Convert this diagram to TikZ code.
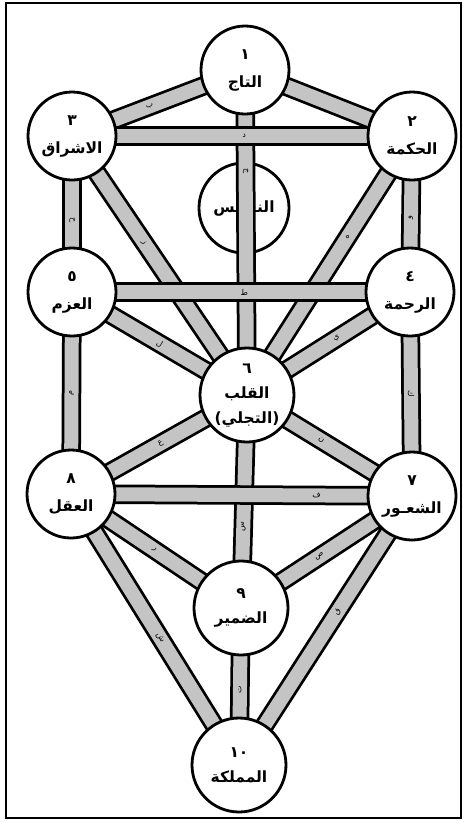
\documentclass[tikz,border=0pt]{standalone}
\usepackage{fontspec}
\TeXXeTstate=1
\newfontfamily\arabicfont[Script=Arabic]{DejaVu Sans}
\definecolor{barfill}{RGB}{196,196,196}
\pgfdeclarelayer{bg}
\pgfsetlayers{bg,main}
\newcommand\pathbar[4]{%
  \draw[barout] (#1.center) -- (#2.center);
  \draw[barin] (#1.center) -- (#2.center) node[lbl,pos=#3]{#4};}
\newcommand\plainbar[2]{%
  \draw[barout] (#1.center) -- (#2.center);
  \draw[barin] (#1.center) -- (#2.center);}
\begin{document}
\begin{tikzpicture}[x=1pt,y=-1pt,
  sefira/.style={circle,draw=black,line width=2.8pt,fill=white,minimum size=88pt,inner sep=0pt,align=center,font=\arabicfont\bfseries\fontsize{15.5}{28}\selectfont},
  bigsefira/.style={sefira,minimum size=94pt,font=\arabicfont\bfseries\fontsize{15.5}{25}\selectfont},
  barout/.style={line width=19.5pt,draw=black},
  barin/.style={line width=14pt,draw=barfill},
  lbl/.style={sloped,inner sep=0pt,text=black,font=\arabicfont\fontsize{8}{8}\selectfont},
  frame/.style={draw=black,line width=2pt}]
\useasboundingbox (0,0) rectangle (464,823);
\draw[frame] (6,3) rectangle (461,818);
% sefirot
\node[sefira] (s1) at (245,70) {١\\\beginR التاج\endR};
\node[sefira] (s2) at (412,136) {٢\\\beginR الحكمة\endR};
\node[sefira] (s3) at (72,136) {٣\\\beginR الاشراق\endR};
\node[sefira] (s4) at (410,292) {٤\\\beginR الرحمة\endR};
\node[sefira] (s5) at (72,292) {٥\\\beginR العزم\endR};
\node[bigsefira] (s6) at (247,395) {٦\\\beginR القلب\endR\\)\beginR التجلي\endR(};
\node[sefira] (s7) at (412,496) {٧\\\beginR الشعـور\endR};
\node[sefira] (s8) at (71,494) {٨\\\beginR العقل\endR};
\node[bigsefira] (s9) at (241,608) {٩\\\beginR الضمير\endR};
\node[bigsefira] (s10) at (239,765) {١٠\\\beginR المملكة\endR};
\begin{pgfonlayer}{bg}
\node[sefira,minimum size=90pt] (sN) at (244,208) {\beginR النفــس\endR};
% diagonals
\pathbar{s1}{s3}{0.55}{ب}
\plainbar{s1}{s2}
\pathbar{s2}{s6}{0.39}{ه}
\pathbar{s3}{s6}{0.41}{ز}
\pathbar{s5}{s6}{0.5}{ل}
\pathbar{s4}{s6}{0.45}{ي}
\pathbar{s6}{s8}{0.49}{ع}
\pathbar{s6}{s7}{0.45}{ن}
\pathbar{s8}{s9}{0.49}{ر}
\pathbar{s7}{s9}{0.54}{ص}
\pathbar{s8}{s10}{0.53}{ش}
\pathbar{s7}{s10}{0.43}{ق}
% verticals
\pathbar{s1}{s6}{0.31}{ج}
\pathbar{s3}{s5}{0.54}{ح}
\pathbar{s2}{s4}{0.52}{و}
\pathbar{s5}{s8}{0.5}{م}
\pathbar{s4}{s7}{0.5}{ك}
\pathbar{s6}{s9}{0.62}{س}
\pathbar{s9}{s10}{0.52}{ت}
% horizontals
\pathbar{s3}{s2}{0.506}{د}
\pathbar{s5}{s4}{0.51}{ط}
\pathbar{s8}{s7}{0.72}{ف}
\end{pgfonlayer}
\end{tikzpicture}
\end{document}
